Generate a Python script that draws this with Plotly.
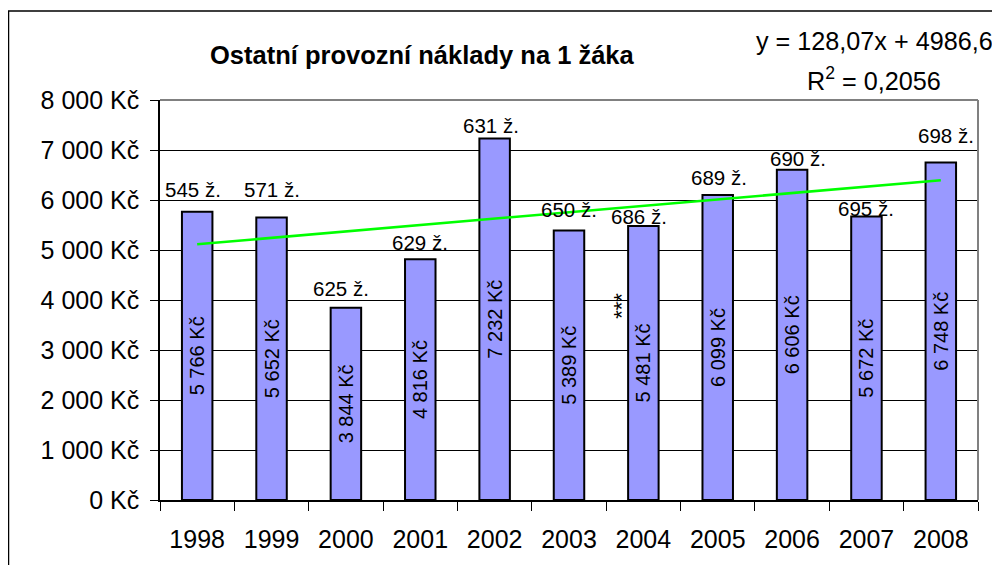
import plotly.graph_objects as go

# ---- data ----
years = ["1998", "1999", "2000", "2001", "2002", "2003", "2004", "2005", "2006", "2007", "2008"]
cost_per_pupil = [5766, 5652, 3844, 4816, 7232, 5389, 5481, 6099, 6606, 5672, 6748]
pupils = [545, 571, 625, 629, 631, 650, 686, 689, 690, 695, 698]
title_text = "Ostatní provozní náklady na 1 žáka"
note_index = 6          # "***" note beside the 2004 bar
note_text = "***"
# linear trend as printed on the chart (x = 1..n)
trend_slope = 128.07
trend_intercept = 4986.6
eq_line1 = "y = 128,07x + 4986,6"
eq_line2 = "R<sup>2</sup> = 0,2056"

# label placement tweaks (pixels): horizontal and vertical offsets above bar tops
label_dx = [-4, 0, -5, 0, -4, 0, -4, 1, 6, 0, 5]
label_dy = [22, 28, 19, 17, 13, 21, 9, 18, 11, 8, 27]

trend = [trend_slope * (i + 1) + trend_intercept for i in range(len(years))]

FONT = "Liberation Sans, Arial, sans-serif"

# page body has an 8px margin: figure is 992x557, plot area spans 818x400
W, H = 992, 557
ML, MT, PW, PH = 152, 92, 818, 400


def px_x(x):  # screen x -> paper
    return (x - 8 - ML) / PW


def px_y(y):  # screen y -> paper
    return (MT + PH - (y - 8)) / PH


fig = go.Figure()
fig.add_trace(go.Bar(
    x=years, y=cost_per_pupil,
    width=0.41,
    marker=dict(color="#9999FF", line=dict(color="black", width=2)),
    texttemplate="%{y:,.0f} Kč",
    textposition="inside",
    insidetextanchor="middle",
    textangle=-90,
    insidetextfont=dict(family=FONT, size=20, color="black"),
    hoverinfo="skip",
))
fig.add_trace(go.Scatter(
    x=years, y=trend, mode="lines",
    line=dict(color="#00FF00", width=2.5),
    hoverinfo="skip",
))

annotations = []
for i, (v, p, dx, dy) in enumerate(zip(cost_per_pupil, pupils, label_dx, label_dy)):
    annotations.append(dict(
        x=i, y=v, xref="x", yref="y", text=f"{p} ž.",
        showarrow=False, xanchor="center", yanchor="middle",
        xshift=dx, yshift=dy,
        font=dict(family=FONT, size=20.5, color="black"),
    ))
# asterisks note
annotations.append(dict(
    x=note_index, y=3890, xref="x", yref="y", text=note_text,
    showarrow=False, textangle=-90, xshift=-22,
    xanchor="center", yanchor="middle",
    font=dict(family=FONT, size=22, color="black"),
))
# title
annotations.append(dict(
    x=px_x(422), y=px_y(55), xref="paper", yref="paper",
    text=f"<b>{title_text}</b>", showarrow=False,
    xanchor="center", yanchor="middle",
    font=dict(family=FONT, size=25.5, color="black"),
))
# trend equation
annotations.append(dict(
    x=px_x(874), y=px_y(40.5), xref="paper", yref="paper",
    text=eq_line1, showarrow=False,
    xanchor="center", yanchor="middle",
    font=dict(family=FONT, size=25.2, color="black"),
))
annotations.append(dict(
    x=px_x(874), y=px_y(79), xref="paper", yref="paper",
    text=eq_line2, showarrow=False,
    xanchor="center", yanchor="middle",
    font=dict(family=FONT, size=25.2, color="black"),
))

shapes = [
    # outer chart border (cropped by page edges)
    dict(type="rect", xref="paper", yref="paper",
         x0=px_x(8.5), x1=px_x(1020),
         y0=px_y(580), y1=px_y(11),
         line=dict(color="black", width=1.5), layer="below"),
    # plot area border top and right (gray)
    dict(type="line", xref="paper", yref="paper", x0=0, x1=1, y0=1, y1=1,
         line=dict(color="#808080", width=2)),
    dict(type="line", xref="paper", yref="paper", x0=1, x1=1, y0=0, y1=1,
         line=dict(color="#808080", width=2)),
]

fig.update_layout(
    width=W, height=H,
    margin=dict(l=ML, r=W - ML - PW, t=MT, b=H - MT - PH, pad=0),
    paper_bgcolor="white", plot_bgcolor="white",
    showlegend=False,
    separators=", ",
    font=dict(family=FONT, size=25, color="black"),
    annotations=annotations,
    shapes=shapes,
)
fig.update_xaxes(
    type="category", range=[-0.5, len(years) - 0.5],
    tickson="boundaries", ticks="outside", ticklen=9, tickcolor="black",
    showline=True, linecolor="black", linewidth=1.5,
    showgrid=False,
    ticklabelstandoff=16,
    tickfont=dict(family=FONT, size=25, color="black"),
)
fig.update_yaxes(
    range=[0, 8000], dtick=1000, tick0=0,
    tickformat=",.0f", ticksuffix=" Kč",
    ticks="outside", ticklen=8, tickcolor="black",
    showline=True, linecolor="black", linewidth=1.5,
    showgrid=True, gridcolor="black", gridwidth=1,
    zeroline=False,
    ticklabelstandoff=6,
    tickfont=dict(family=FONT, size=25, color="black"),
)

fig.write_html("out.html")
